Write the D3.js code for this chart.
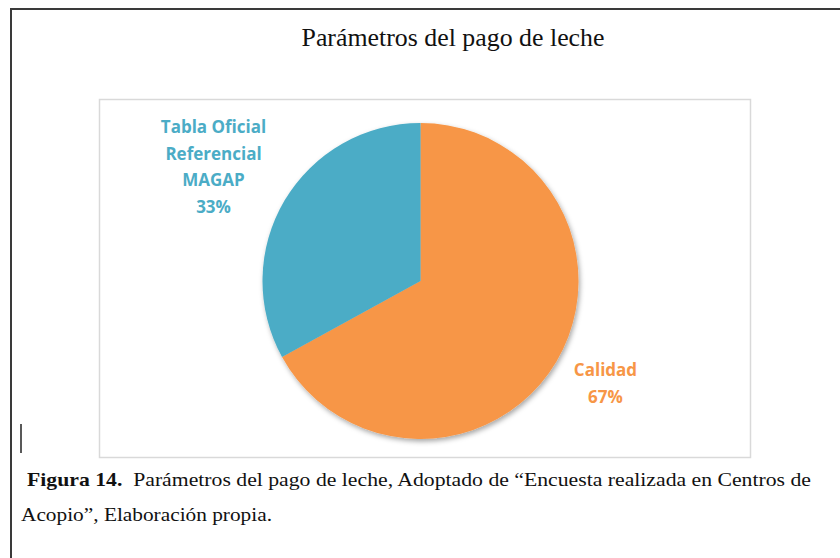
<!DOCTYPE html>
<html>
<head>
<meta charset="utf-8">
<script src="https://cdn.jsdelivr.net/npm/d3@7"></script>
<style>
  body { margin: 0; background: #fff; }
  svg { display: block; }
</style>
</head>
<body>
<svg id="chart"></svg>
<script>
let w = 840;
let h = 558;

// data
let categories = ["Calidad", "Tabla Oficial Referencial MAGAP"];
let values = [67, 33];
let labelLines = [["Calidad", "67%"], ["Tabla Oficial", "Referencial", "MAGAP", "33%"]];
let colors = ["#F79646", "#4BACC6"];

let svg = d3.select("#chart").attr("width", w).attr("height", h);

// page frame (document border)
svg.append("path")
  .attr("d", "M11,558 L11,9 L840,9")
  .attr("fill", "none")
  .attr("stroke", "#3a3a3a")
  .attr("stroke-width", 2);

// title
svg.append("text")
  .attr("x", 453)
  .attr("y", 46)
  .attr("text-anchor", "middle")
  .attr("textLength", 303)
  .attr("lengthAdjust", "spacingAndGlyphs")
  .style("font-family", "'Liberation Serif', 'Times New Roman', serif")
  .style("font-size", "26px")
  .attr("fill", "#111")
  .text("Parámetros del pago de leche");

// chart area box
svg.append("rect")
  .attr("x", 99.5)
  .attr("y", 99.5)
  .attr("width", 651)
  .attr("height", 358)
  .attr("fill", "#fff")
  .attr("stroke", "#d9d9d9")
  .attr("stroke-width", 1.5);

// soft shadow
let defs = svg.append("defs");
let f = defs.append("filter").attr("id", "shadow")
  .attr("x", "-10%").attr("y", "-10%").attr("width", "120%").attr("height", "120%");
f.append("feDropShadow")
  .attr("dx", 1.5).attr("dy", 2.5).attr("stdDeviation", 2.5)
  .attr("flood-color", "#000").attr("flood-opacity", 0.35);

let cx = 420.5, cy = 281, r = 158;

let pie = d3.pie().sort(null).value(function (d) { return d; });
let arc = d3.arc().innerRadius(0).outerRadius(r);

let g = svg.append("g").attr("transform", "translate(" + cx + "," + cy + ")");

g.append("g")
  .attr("filter", "url(#shadow)")
  .selectAll("path")
  .data(pie(values))
  .enter()
  .append("path")
  .attr("d", arc)
  .attr("fill", function (d, i) { return colors[i]; });

// data labels, positioned outside the pie like Excel's best fit
let labelPos = [[185, 95], [-207, -148]];
let lineH = 26.5;

labelLines.forEach(function (lines, i) {
  let t = g.append("text")
    .attr("text-anchor", "middle")
    .style("font-family", "'Open Sans', Lato, sans-serif")
    .style("font-weight", "bold")
    .style("font-size", "17px")
    .attr("fill", colors[i]);
  lines.forEach(function (s, j) {
    t.append("tspan")
      .attr("x", labelPos[i][0])
      .attr("y", labelPos[i][1] + j * lineH)
      .text(s);
  });
});

// text cursor mark
svg.append("line")
  .attr("x1", 21).attr("x2", 21)
  .attr("y1", 424).attr("y2", 453)
  .attr("stroke", "#222")
  .attr("stroke-width", 1.5);

// caption
let cap = svg.append("text")
  .attr("x", 27)
  .attr("y", 486)
  .attr("textLength", 784)
  .attr("lengthAdjust", "spacingAndGlyphs")
  .style("font-family", "'Liberation Serif', 'Times New Roman', serif")
  .style("font-size", "19px")
  .attr("fill", "#111");
cap.append("tspan").style("font-weight", "bold").text("Figura 14.");
cap.append("tspan").text("\u00a0 Parámetros del pago de leche, Adoptado de \u201cEncuesta realizada en Centros de");

svg.append("text")
  .attr("x", 21)
  .attr("y", 521)
  .attr("textLength", 251)
  .attr("lengthAdjust", "spacingAndGlyphs")
  .style("font-family", "'Liberation Serif', 'Times New Roman', serif")
  .style("font-size", "19px")
  .attr("fill", "#111")
  .text("Acopio\u201d, Elaboración propia.");
</script>
</body>
</html>
